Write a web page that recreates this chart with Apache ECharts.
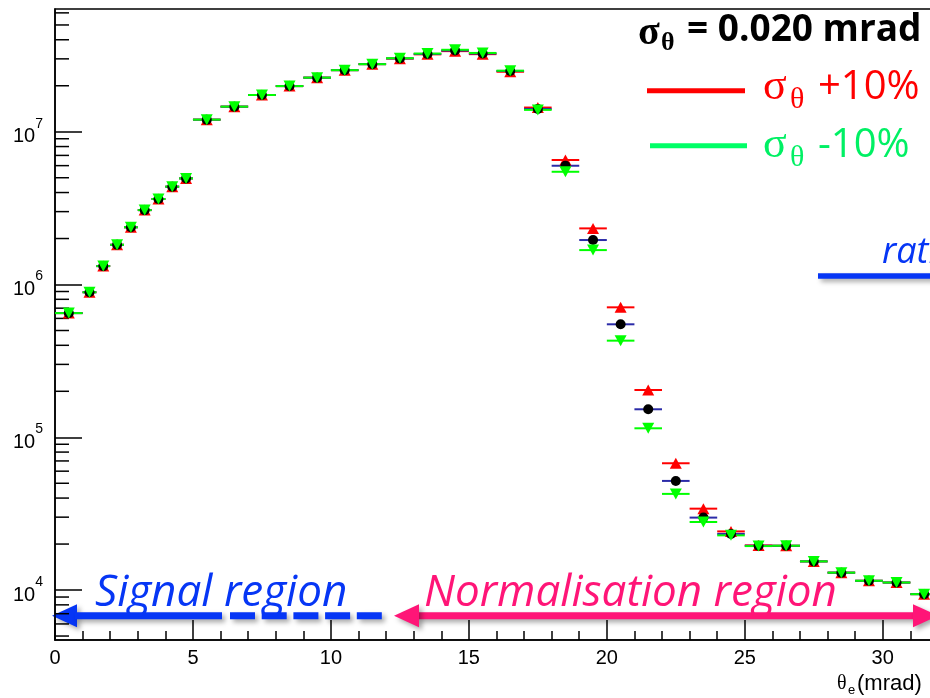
<!DOCTYPE html>
<html>
<head>
<meta charset="utf-8">
<script src="https://cdn.jsdelivr.net/npm/echarts@6/dist/echarts.min.js"></script>
<style>
  html, body { margin: 0; padding: 0; background: #ffffff; }
  #chart { width: 930px; height: 698px; }
</style>
</head>
<body>
<div id="chart"></div>
<script>
// Bin edges of the theta_e histogram (mrad): one 1-mrad bin, 0.5-mrad bins up to 5, then 1-mrad bins
const binEdges = [0, 1, 1.5, 2, 2.5, 3, 3.5, 4, 4.5, 5,
  6, 7, 8, 9, 10, 11, 12, 13, 14, 15, 16, 17, 18, 19, 20,
  21, 22, 23, 24, 25, 26, 27, 28, 29, 30, 31, 32];

// Nominal resolution (sigma_theta = 0.020 mrad)
const nominal = [6.5e5, 8.9e5, 1.32e6, 1.82e6, 2.37e6, 3.07e6, 3.63e6, 4.37e6, 4.95e6,
  1.2e7, 1.46e7, 1.74e7, 1.99e7, 2.26e7, 2.53e7, 2.77e7, 3.02e7, 3.23e7, 3.4e7,
  3.25e7, 2.5e7, 1.41e7, 5.99e6, 1.955e6, 5.49e5, 1.525e5, 5.18e4, 2.98e4, 2.33e4,
  1.95e4, 1.95e4, 1.54e4, 1.3e4, 1.15e4, 1.12e4, 9.4e3];

// sigma_theta +10%
const plus10 = [6.5e5, 8.9e5, 1.32e6, 1.82e6, 2.37e6, 3.07e6, 3.63e6, 4.37e6, 4.95e6,
  1.2e7, 1.46e7, 1.74e7, 1.99e7, 2.26e7, 2.53e7, 2.77e7, 3.01e7, 3.21e7, 3.37e7,
  3.22e7, 2.47e7, 1.44e7, 6.53e6, 2.33e6, 7.09e5, 2.04e5, 6.76e4, 3.41e4, 2.42e4,
  1.96e4, 1.95e4, 1.54e4, 1.3e4, 1.15e4, 1.12e4, 9.4e3];

// sigma_theta -10%
const minus10 = [6.5e5, 8.9e5, 1.32e6, 1.82e6, 2.37e6, 3.07e6, 3.63e6, 4.37e6, 4.95e6,
  1.2e7, 1.46e7, 1.74e7, 1.99e7, 2.26e7, 2.53e7, 2.77e7, 3.03e7, 3.25e7, 3.44e7,
  3.28e7, 2.51e7, 1.39e7, 5.47e6, 1.68e6, 4.29e5, 1.145e5, 4.26e4, 2.79e4, 2.28e4,
  1.94e4, 1.95e4, 1.54e4, 1.3e4, 1.15e4, 1.12e4, 9.4e3];

// Axis ranges
const xRange = [0, 35];
const yRange = [4710, 6.36e7];

// Minor ticks of the log axis: 2..9 x 10^n inside the range
const yMinorTicks = [];
for (let d = 3; d <= 7; d++) {
  for (let m = 2; m <= 9; m++) {
    const v = m * Math.pow(10, d);
    if (v > yRange[0] && v < yRange[1]) yMinorTicks.push(v);
  }
}

const C = {
  red: '#ff0000',
  green: '#00ff00',
  blueBar: '#2b2ba8',
  black: '#000000',
  legendGreen: '#00f064',
  textBlue: '#0636f5',
  pink: '#ff1577'
};

const centers = binEdges.slice(0, -1).map((e, i) => (e + binEdges[i + 1]) / 2);

function errorBars(name, values, color) {
  return {
    name: name,
    type: 'custom',
    silent: true,
    clip: false,
    encode: { x: [0, 1], y: 2 },
    data: values.map((v, i) => [binEdges[i], binEdges[i + 1], v]),
    renderItem: function (params, api) {
      const a = api.coord([api.value(0), api.value(2)]);
      const b = api.coord([api.value(1), api.value(2)]);
      return {
        type: 'line',
        shape: { x1: a[0], y1: a[1], x2: b[0], y2: b[1] },
        style: { stroke: color, lineWidth: 2 }
      };
    }
  };
}

function markers(name, values, color, symbol, size, rotate) {
  return {
    name: name,
    type: 'scatter',
    silent: true,
    symbol: symbol,
    symbolSize: size,
    symbolRotate: rotate || 0,
    itemStyle: { color: color, opacity: 1 },
    data: values.map((v, i) => [centers[i], v])
  };
}

const minorTickSeries = {
  type: 'custom',
  silent: true,
  clip: false,
  data: yMinorTicks.map(v => [xRange[0], v]),
  renderItem: function (params, api) {
    const p = api.coord([api.value(0), api.value(1)]);
    return {
      type: 'line',
      shape: { x1: p[0], y1: p[1], x2: p[0] + 14, y2: p[1] },
      style: { stroke: '#000', lineWidth: 1.5 }
    };
  }
};

const arrowShadow = {
  shadowBlur: 5,
  shadowColor: 'rgba(0,0,0,0.35)',
  shadowOffsetX: 3,
  shadowOffsetY: 3
};

const arrowY = 615.7;

const chart = echarts.init(document.getElementById('chart'), null, { renderer: 'canvas' });

chart.setOption({
  animation: false,
  backgroundColor: '#ffffff',
  grid: {
    left: 55, top: 9, width: 965.7, height: 631,
    outerBoundsMode: 'none',
    containLabel: false,
    show: true, borderColor: '#000', borderWidth: 1.5, backgroundColor: 'transparent'
  },
  xAxis: {
    type: 'value',
    min: xRange[0], max: xRange[1], interval: 5,
    axisLine: { show: true, lineStyle: { color: '#000', width: 1.5 } },
    axisTick: { show: true, inside: true, length: 20, lineStyle: { color: '#000', width: 1.5 } },
    minorTick: { show: true, splitNumber: 5, length: 9, lineStyle: { color: '#000', width: 1.5 } },
    splitLine: { show: false },
    axisLabel: {
      margin: 8, color: '#000', fontSize: 20, fontFamily: 'Liberation Sans',
      showMaxLabel: false
    }
  },
  yAxis: {
    type: 'log',
    logBase: 10,
    min: yRange[0], max: yRange[1],
    axisLine: { show: true, lineStyle: { color: '#000', width: 1.5 } },
    axisTick: { show: true, inside: true, length: 27, lineStyle: { color: '#000', width: 1.5 } },
    splitLine: { show: false },
    axisLabel: {
      margin: 12,
      showMinLabel: false, showMaxLabel: false,
      formatter: function (v) {
        const e = Math.round(Math.log10(v));
        return '{b|10}{s|' + e + '}';
      },
      rich: {
        b: { fontSize: 20, fontFamily: 'Liberation Sans', color: '#000', lineHeight: 30, verticalAlign: 'bottom' },
        s: { fontSize: 14, fontFamily: 'Liberation Sans', color: '#000', lineHeight: 30, verticalAlign: 'top' }
      }
    }
  },
  series: [
    minorTickSeries,
    errorBars('bars +10%', plus10, C.red),
    markers('sigma +10%', plus10, C.red, 'triangle', [12, 11]),
    errorBars('bars nominal', nominal, C.blueBar),
    markers('nominal', nominal, C.black, 'circle', 10),
    errorBars('bars -10%', minus10, C.green),
    markers('sigma -10%', minus10, C.green, 'triangle', [12, 11], 180)
  ],
  graphic: [
    // resolution label
    { type: 'text', x: 638, y: 14, style: { text: 'σ', font: 'bold 40px "Liberation Serif"', fill: '#000' } },
    { type: 'text', x: 661, y: 30, style: { text: 'θ', font: 'bold 26px "Liberation Serif"', fill: '#000' } },
    { type: 'text', x: 687, y: 12, style: { text: '= 0.020 mrad', font: 'bold 37px "Open Sans"', fill: '#000' } },

    // legend: +10%
    { type: 'line', shape: { x1: 647, y1: 90.7, x2: 745, y2: 90.7 }, style: { stroke: '#ff0000', lineWidth: 5 } },
    { type: 'text', x: 763, y: 65, style: { text: 'σ', font: '44px "Liberation Serif"', fill: '#ff0000' } },
    { type: 'text', x: 790, y: 85, style: { text: 'θ', font: '30px "Liberation Serif"', fill: '#ff0000' } },
    { type: 'text', x: 818, y: 68, style: { text: '+10%', font: '40px "Open Sans"', fill: '#ff0000' } },

    // legend: -10%
    { type: 'line', shape: { x1: 650, y1: 145.7, x2: 747, y2: 145.7 }, style: { stroke: '#00ff66', lineWidth: 5 } },
    { type: 'text', x: 763, y: 123, style: { text: 'σ', font: '44px "Liberation Serif"', fill: C.legendGreen } },
    { type: 'text', x: 790, y: 143, style: { text: 'θ', font: '30px "Liberation Serif"', fill: C.legendGreen } },
    { type: 'text', x: 818, y: 126, style: { text: '-10%', font: '40px "Open Sans"', fill: C.legendGreen } },

    // ratio label with underline
    { type: 'text', x: 882, y: 235, style: { text: 'ratio', font: 'italic 36px "Open Sans"', fill: C.textBlue } },
    { type: 'line', shape: { x1: 818, y1: 276, x2: 940, y2: 276 },
      style: Object.assign({ stroke: C.textBlue, lineWidth: 5.5 }, arrowShadow) },

    // signal region arrow (solid then dashed)
    { type: 'polygon', shape: { points: [[52, arrowY], [77, arrowY - 11.5], [77, arrowY + 11.5]] },
      style: Object.assign({ fill: C.textBlue }, arrowShadow) },
    { type: 'line', shape: { x1: 75, y1: arrowY, x2: 222, y2: arrowY },
      style: Object.assign({ stroke: C.textBlue, lineWidth: 7 }, arrowShadow) },
    { type: 'line', shape: { x1: 230, y1: arrowY, x2: 382, y2: arrowY },
      style: Object.assign({ stroke: C.textBlue, lineWidth: 7, lineDash: [25, 6.7] }, arrowShadow) },

    // normalisation region double arrow
    { type: 'line', shape: { x1: 416, y1: arrowY, x2: 915, y2: arrowY },
      style: Object.assign({ stroke: C.pink, lineWidth: 7 }, arrowShadow) },
    { type: 'polygon', shape: { points: [[394, arrowY], [419, arrowY - 11.5], [419, arrowY + 11.5]] },
      style: Object.assign({ fill: C.pink }, arrowShadow) },
    { type: 'polygon', shape: { points: [[938, arrowY], [913, arrowY - 11.5], [913, arrowY + 11.5]] },
      style: Object.assign({ fill: C.pink }, arrowShadow) },

    // region labels
    { type: 'text', x: 95, y: 571, style: { text: 'Signal region', font: 'italic 44px "Open Sans"', fill: C.textBlue } },
    { type: 'text', x: 424, y: 571, style: { text: 'Normalisation region', font: 'italic 44px "Open Sans"', fill: C.pink } },

    // x-axis title
    { type: 'text', x: 837, y: 674, style: { text: 'θ', font: '20px "Liberation Serif"', fill: '#000' } },
    { type: 'text', x: 848, y: 684, style: { text: 'e', font: '13px "Liberation Sans"', fill: '#000' } },
    { type: 'text', x: 857, y: 673, style: { text: '(mrad)', font: '22px "Liberation Sans"', fill: '#000' } }
  ]
});
</script>
</body>
</html>
